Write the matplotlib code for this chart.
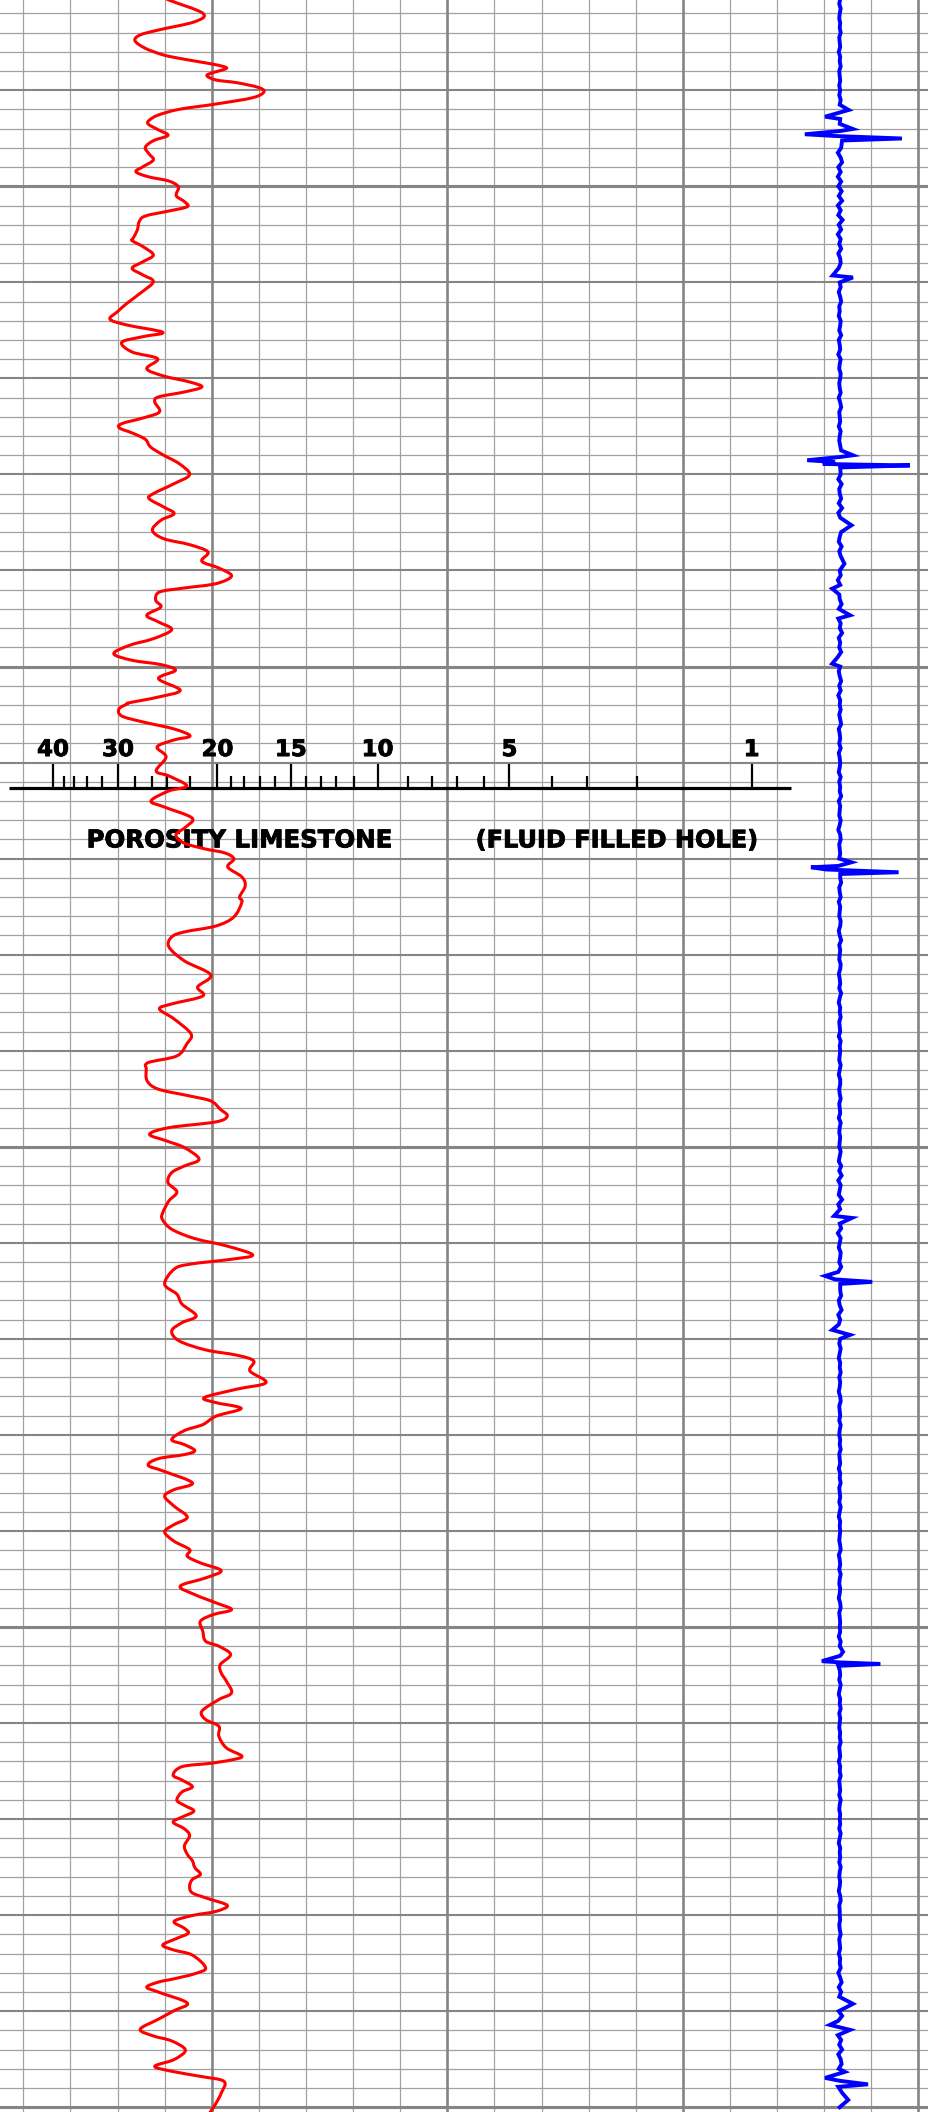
#!/usr/bin/env python3
from __future__ import annotations

import matplotlib

matplotlib.use("Agg")
import matplotlib.patheffects as pe
import matplotlib.pyplot as plt
import numpy as np
from matplotlib.patches import PathPatch
from matplotlib.path import Path

# depth window (ft) and track width (chart divisions)
TOP_DEPTH = 4080.6
BOTTOM_DEPTH = 4300.5
TRACK_LEFT = 0.505
TRACK_RIGHT = 20.225

# red neutron curve, in chart divisions
neutron_depth = [
    4080.08, 4080.60, 4081.98, 4082.86, 4083.72, 4084.24, 4084.84, 4085.63, 4086.33, 4086.77,
    4087.19, 4087.54, 4087.78, 4088.23, 4088.51, 4088.93, 4089.21, 4089.69, 4090.15, 4090.77,
    4091.43, 4091.98, 4092.57, 4093.09, 4093.51, 4094.13, 4094.69, 4095.25, 4095.94, 4096.63,
    4097.26, 4097.96, 4098.48, 4099.00, 4099.45, 4100.04, 4100.73, 4101.08, 4101.60, 4102.12,
    4102.57, 4103.09, 4103.68, 4104.55, 4105.41, 4105.66, 4106.28, 4107.15, 4107.85, 4108.53,
    4109.23, 4109.93, 4111.14, 4112.18, 4113.05, 4113.84, 4114.44, 4115.20, 4115.65, 4116.24,
    4117.25, 4117.95, 4118.99, 4119.75, 4120.37, 4120.89, 4121.41, 4121.93, 4122.45, 4123.49,
    4124.12, 4124.71, 4125.16, 4125.68, 4126.34, 4127.14, 4128.00, 4128.88, 4130.02, 4130.96,
    4132.00, 4132.52, 4133.39, 4134.08, 4134.77, 4135.81, 4136.69, 4137.31, 4138.07, 4139.04,
    4139.74, 4140.57, 4141.37, 4141.82, 4142.24, 4143.10, 4143.80, 4144.66, 4145.36, 4146.16,
    4147.10, 4147.78, 4148.66, 4149.35, 4149.80, 4150.39, 4151.26, 4152.47, 4153.17, 4153.76,
    4153.90, 4154.42, 4155.15, 4155.77, 4156.50, 4157.23, 4157.64, 4158.37, 4159.41, 4160.87,
    4161.39, 4162.43, 4162.95, 4163.99, 4164.62, 4165.76, 4166.70, 4167.53, 4168.37, 4168.99,
    4169.41, 4170.03, 4170.87, 4171.91, 4172.84, 4173.99, 4174.51, 4176.07, 4177.01, 4177.63,
    4178.15, 4179.19, 4180.65, 4182.11, 4183.36, 4184.30, 4185.13, 4185.65, 4186.69, 4188.25,
    4189.29,
    4190.54, 4191.24, 4191.93, 4193.15, 4194.01, 4194.71, 4195.23, 4196.09, 4196.79, 4197.41,
    4198.01, 4198.70, 4199.39, 4200.09, 4201.30, 4202.00, 4202.69, 4203.73, 4204.70, 4205.64,
    4206.86, 4207.54, 4208.59, 4209.56, 4210.32, 4211.26, 4211.71, 4212.23, 4212.75, 4214.31,
    4215.35, 4216.39, 4217.61, 4218.31, 4219.17, 4220.22, 4221.15, 4221.70, 4222.30, 4223.34,
    4224.56, 4225.24, 4226.12, 4226.64, 4227.05,
    4227.37, 4228.05, 4228.93, 4229.55, 4230.49, 4231.01, 4231.64, 4232.05, 4232.47, 4233.16,
    4233.78, 4235.00, 4235.70, 4236.38, 4237.42, 4238.57, 4239.34, 4240.10, 4241.07, 4241.94,
    4242.63, 4243.33, 4244.13, 4244.89, 4245.75, 4246.63, 4247.49, 4248.19, 4248.71, 4249.40,
    4250.44, 4251.48, 4252.00, 4252.87, 4253.92, 4254.78, 4255.64, 4256.86, 4257.56, 4258.77,
    4259.64, 4260.33, 4261.37, 4262.59, 4263.45,
    4263.84, 4264.19, 4264.54, 4265.42, 4265.94, 4266.64, 4267.17, 4268.04, 4268.58, 4269.17,
    4269.79, 4270.32, 4271.02, 4271.73, 4272.78, 4273.66, 4274.35, 4275.05, 4275.76, 4276.28,
    4276.99, 4277.69, 4278.28, 4278.99, 4279.61, 4280.04, 4280.66, 4281.37, 4281.89, 4282.42,
    4283.12, 4283.64, 4284.17, 4285.50, 4286.10, 4286.63, 4286.97, 4287.50, 4288.02, 4289.15,
    4289.95, 4290.83, 4291.89, 4292.58, 4293.10, 4294.05, 4295.04, 4295.74, 4296.26, 4296.79,
    4297.31, 4298.54, 4299.59, 4300.43, 4300.80,
]
neutron_value = [
    3.90, 4.09, 4.81, 4.64, 3.87, 3.48, 3.37, 3.59, 3.98, 4.42,
    4.92, 5.26, 5.29, 4.98, 4.90, 5.09, 5.53, 5.98, 6.11, 5.87,
    5.09, 4.31, 3.87, 3.68, 3.65, 3.87, 4.07, 3.76, 3.59, 3.67,
    3.76, 3.54, 3.39, 3.65, 4.09, 4.29, 4.25, 4.26, 4.42, 4.48,
    4.09, 3.59, 3.46, 3.42, 3.33, 3.31, 3.54, 3.76, 3.54, 3.31,
    3.54, 3.76, 3.48, 3.20, 3.00, 2.84, 3.20, 3.96, 3.54, 3.09,
    3.31, 3.85, 3.62, 3.98, 4.53, 4.79, 4.42, 3.87, 3.79, 3.89,
    3.54, 3.09, 3.04, 3.31, 3.59, 3.70, 3.98, 4.31, 4.53, 4.20,
    3.76, 3.67, 3.98, 4.20, 3.92, 3.74, 3.98, 4.53, 4.92, 4.79,
    5.15, 5.42, 5.09, 4.42, 3.89, 3.81, 3.92, 3.62, 3.87, 4.15,
    3.76, 3.26, 2.92, 3.31, 3.92, 4.23, 3.87, 4.33, 3.87, 3.26,
    3.20, 3.03, 3.09, 3.54, 4.20, 4.54, 4.20, 3.84, 4.03, 3.82,
    4.09, 4.47, 4.09, 3.71, 3.99, 4.58, 4.45, 4.24, 4.41, 4.86,
    5.28, 5.47, 5.34, 5.64, 5.71, 5.59, 5.64, 5.47, 5.09, 4.42,
    4.15, 4.09, 4.42, 4.98, 4.70, 4.81, 4.15, 3.89, 4.20, 4.56,
    4.47,
    4.26, 3.65, 3.61, 3.63, 3.87, 4.53, 4.98, 5.18, 5.33, 5.09,
    4.09, 3.68, 4.04, 4.42, 4.73, 4.42, 4.15, 4.07, 4.26, 4.09,
    3.96, 3.95, 4.15, 4.64, 5.31, 5.87, 5.42, 4.53, 4.20, 4.00,
    4.26, 4.37, 4.67, 4.37, 4.15, 4.31, 4.87, 5.53, 5.89, 5.81,
    6.15, 5.53, 4.84, 5.09, 5.53,
    5.59, 5.09, 4.81, 4.42, 4.15, 4.42, 4.64, 4.42, 3.87, 3.65,
    3.98, 4.59, 4.20, 4.00, 4.20, 4.48, 4.20, 4.00, 4.20, 4.53,
    4.48, 4.76, 5.20, 4.87, 4.33, 4.64, 5.09, 5.42, 5.03, 4.76,
    4.81, 4.87, 5.15, 5.40, 5.18, 5.20, 5.31, 5.42, 5.15, 4.79,
    4.87, 5.15, 5.15, 5.31, 5.64,
    5.42, 4.98, 4.37, 4.18, 4.37, 4.59, 4.37, 4.26, 4.42, 4.62,
    4.37, 4.18, 4.42, 4.53, 4.42, 4.48, 4.59, 4.64, 4.76, 4.59,
    4.53, 4.59, 4.92, 5.33, 5.09, 4.59, 4.20, 4.42, 4.50, 4.26,
    3.96, 4.20, 4.59, 4.87, 4.64, 4.20, 3.87, 3.62, 3.87, 4.48,
    4.20, 3.87, 3.48, 3.76, 4.15, 4.44, 4.20, 3.79, 4.15, 4.76,
    5.26, 5.20, 5.09, 4.98, 4.92,
]

# blue trace: baseline in divisions, readings every half foot from 4080 ft
# given as offsets from the baseline in hundredths of a division
TRACE_BASE = 18.33
TRACE_START = 4080.0
TRACE_STEP = 0.5
trace_offset = [
    0, 1, -1, 2, 0, -1, 1, 0, 2, -1, 0, 1, -2, 1, 0, 2, -1, 0, 1, -1,
    1, -1, 2, 0, -2, 3, -1, 0, 2, -3, 4, -2, 3, -4, 2, 5, -3, 2, -4, 3,
    -3, 4, -2, 5, -4, 2, -3, 6, -2, 3, -4, 2, -1, 3, -3, 1, 2, -2, 3, -1,
    0, 2, -2, 1, 3, -1, 0, -2, 2, 1, -1, 3, -2, 0, 1, -3, 2, 0, -1, 2,
    1, -1, 0, 2, -2, 1, 3, -1, 0, 1, -2, 2, 0, -1, 1, 3, -2, 0, 1, -1,
    2, -3, 4, -1, 0, 3, -2, 5, -3, 1, 2, -4, 3, 0, -2, 4, -1, 2, -3, 1,
    0, 2, -4, 1, 3, -1, 0, 4, -2, 1, -3, 2, 0, 5, -2, 1, -1, 3, -4, 2,
    1, -2, 0, 3, -1, 2, -3, 1, 0, 2, -1, 1, 3, -2, 0, 1, -1, 2, -2, 0,
    1, 0, -2, 2, -1, 1, 0, 3, -2, 1, 0, -1, 2, 0, -3, 1, 2, -1, 0, 1,
    -1, 2, 0, -2, 1, 3, -1, 0, 2, -2, 1, 0, -1, 2, 1, -2, 0, 3, -1, 1,
    0, -1, 2, 1, -2, 0, 1, -1, 3, 0, -2, 1, 0, 2, -1, 0, 1, -2, 2, 0,
    1, 0, -1, 2, 0, -2, 1, 1, -1, 0, 2, -1, 0, 1, -2, 2, 0, -1, 1, 0,
    -1, 2, 0, -2, 3, -1, 4, -3, 2, 0, -2, 5, -3, 1, 4, -2, 0, 3, -4, 2,
    0, -2, 2, 1, -1, 3, -3, 0, 2, -1, 1, 3, -2, 0, 4, -3, 1, -2, 3, 0,
    1, -1, 2, 0, -2, 1, 0, 2, -1, 1, 0, -2, 1, 2, -1, 0, 1, -1, 2, 0,
    -1, 1, 0, 2, -1, 0, 1, -2, 1, 0, 2, -1, 0, 1, -1, 2, 0, -2, 1, 0,
    1, 0, -1, 1, 2, -2, 0, 1, -1, 2, 0, -1, 1, 0, -2, 1, 2, -1, 0, 1,
    0, 1, -2, 2, 0, -1, 1, 3, -2, 0, 1, -1, 2, 0, -2, 1, 0, 2, -1, 1,
    0, -1, 1, 0, 2, -1, 0, 1, -2, 1, 0, 2, -1, 0, 1, -1, 2, 0, -1, 1,
    0, 1, -1, 2, 0, -2, 1, 0, 1, -1, 2, 0, -1, 1, 0, -2, 1, 2, -1, 0,
    0, 1, -1, 0, 2, -1, 0, 1, -2, 1, 0, 2, -3, 1, 4, -2, 3, -1, 5, -2,
    -2, 5, -3, 2, 4, -4, 3, -1, 5, -3, 2, 4, -2, -4, 3, 1, -3, 5, -2, 3,
    0,
]
kick_depth = [
    4092.05, 4092.75, 4092.99, 4094.03, 4094.24, 4094.58, 4094.76, 4095.02, 4095.23,
    4109.28, 4109.49,
    4128.00, 4128.18, 4128.52, 4128.70, 4128.91, 4129.06, 4129.27,
    4135.29, 4139.29, 4141.89, 4144.66, 4149.70,
    4170.38, 4170.76, 4170.90, 4171.13, 4171.42, 4171.60,
    4207.20, 4207.41,
    4213.03, 4213.45, 4213.81, 4214.07, 4214.28,
    4219.07, 4219.59,
    4252.59, 4253.56, 4253.69, 4253.85, 4254.05,
    4289.24, 4291.43, 4291.95,
    4296.32, 4296.95, 4297.26, 4297.62, 4297.88,
    4299.24,
]
kick_value = [
    18.52, 18.02, 18.34, 18.61, 18.34, 17.59, 18.23, 19.65, 18.38,
    18.18, 18.61,
    18.61, 18.34, 17.64, 18.23, 17.97, 19.82, 18.34,
    18.58, 18.43, 18.17, 18.55, 18.17,
    18.58, 18.30, 17.72, 18.04, 19.58, 18.34,
    18.21, 18.59,
    18.30, 18.02, 18.23, 19.02, 18.34,
    18.17, 18.55,
    18.40, 17.95, 18.34, 19.19, 18.30,
    18.61, 18.12, 18.55,
    18.44, 18.02, 18.34, 18.93, 18.30,
    18.51,
]

# porosity scale printed across the track
scale_porosity = [40, 38, 36, 34, 32, 30, 28, 26, 24, 22, 20, 19, 18, 17, 16,
                  15, 14, 13, 12, 11, 10, 9, 8, 7, 6, 5, 4, 3, 2, 1]
scale_position = [1.63, 1.86, 2.08, 2.36, 2.66, 3.01, 3.37, 3.73, 4.06, 4.54,
                  5.12, 5.40, 5.69, 6.03, 6.35, 6.68, 7.00, 7.31, 7.64, 8.01,
                  8.52, 9.17, 9.68, 10.20, 10.77, 11.32, 12.22, 12.97, 14.03, 16.46]
scale_labels = [40, 30, 20, 15, 10, 5, 1]
SCALE_DEPTH = 4162.67
SCALE_SPAN = (0.70, 17.29)
LABEL_DEPTH = 4159.32
TITLE_DEPTH = 4168.83

GRID_MINOR = "#a2a2a2"
GRID_MAJOR = "#858585"
BOLD = [pe.withStroke(linewidth=0.6, foreground="black")]


def draw_grid(ax: plt.Axes) -> None:
    for depth in np.arange(4080, 4302, 2):
        if depth % 50 == 0:
            ax.axhline(depth, color=GRID_MAJOR, lw=2.2, zorder=1.5)
        elif depth % 10 == 0:
            ax.axhline(depth, color=GRID_MAJOR, lw=1.5, zorder=1.5)
        else:
            ax.axhline(depth, color=GRID_MINOR, lw=0.9, zorder=1)
    for div in range(1, 21):
        if div % 5 == 0:
            ax.axvline(div, color=GRID_MAJOR, lw=1.9, zorder=1.5)
        else:
            ax.axvline(div, color=GRID_MINOR, lw=0.9, zorder=1)


def draw_scale(ax: plt.Axes) -> None:
    ax.hlines(SCALE_DEPTH, *SCALE_SPAN, color="black", lw=2.3, zorder=3)
    for por, pos in zip(scale_porosity, scale_position):
        top = SCALE_DEPTH - (2.5 if por in scale_labels else 1.3)
        ax.vlines(pos, top, SCALE_DEPTH, color="black", lw=1.6, zorder=3)
        if por in scale_labels:
            ax.text(pos, LABEL_DEPTH, str(por), ha="center", va="baseline",
                    fontsize=16.5, fontweight="bold", family="DejaVu Sans",
                    zorder=3, path_effects=BOLD)
    for x, label, size in [(5.58, "POROSITY LIMESTONE", 17.6),
                           (13.61, "(FLUID FILLED HOLE)", 17.3)]:
        ax.text(x, TITLE_DEPTH, label, ha="center", va="baseline",
                fontsize=size, fontweight="bold", family="DejaVu Sans",
                zorder=3, path_effects=BOLD)


def smooth_line(x, y) -> Path:
    # Catmull-Rom through the read points, drawn as cubic Bezier pieces
    pts = np.column_stack([x, y])
    verts = [pts[0]]
    codes = [Path.MOVETO]
    n = len(pts)
    for i in range(n - 1):
        p0 = pts[max(i - 1, 0)]
        p1 = pts[i]
        p2 = pts[i + 1]
        p3 = pts[min(i + 2, n - 1)]
        verts += [p1 + (p2 - p0) / 6.0, p2 - (p3 - p1) / 6.0, p2]
        codes += [Path.CURVE4] * 3
    return Path(verts, codes)


def blue_trace() -> tuple[np.ndarray, np.ndarray]:
    depth = TRACE_START + TRACE_STEP * np.arange(len(trace_offset))
    value = TRACE_BASE + np.asarray(trace_offset) / 100.0
    kicks = np.asarray(kick_depth)
    # leave the regular readings out where a kick is drawn
    keep = np.min(np.abs(depth[:, None] - kicks[None, :]), axis=1) > 0.3
    all_depth = np.concatenate([depth[keep], kicks])
    all_value = np.concatenate([value[keep], np.asarray(kick_value)])
    order = np.argsort(all_depth)
    return all_depth[order], all_value[order]


def main() -> None:
    fig = plt.figure(figsize=(9.29, 21.12), dpi=100)
    ax = fig.add_axes([0, 0, 1, 1])
    ax.set_xlim(TRACK_LEFT, TRACK_RIGHT)
    ax.set_ylim(BOTTOM_DEPTH, TOP_DEPTH)
    ax.set_axis_off()

    draw_grid(ax)
    draw_scale(ax)

    bd, bv = blue_trace()
    ax.plot(bv, bd, color="#0000ff", lw=2.8, zorder=4, solid_joinstyle="miter")

    red = PathPatch(smooth_line(neutron_value, neutron_depth), facecolor="none",
                    edgecolor="#ff0000", lw=2.2, zorder=5, capstyle="round",
                    joinstyle="round")
    ax.add_patch(red)

    fig.savefig("out.png", dpi=100, facecolor="white")
    plt.close(fig)


if __name__ == "__main__":
    main()
